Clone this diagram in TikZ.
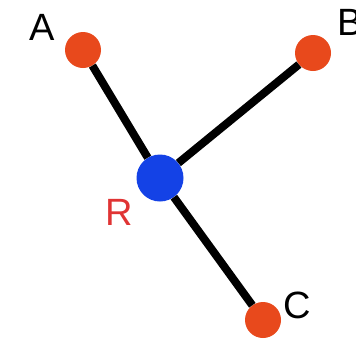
\documentclass[tikz,border=0pt]{standalone}
\usepackage{fontspec}
\setmainfont{Liberation Sans}
\usetikzlibrary{positioning}
\definecolor{leafdot}{HTML}{E8491C}
\definecolor{rootdot}{HTML}{1442E6}
\definecolor{rootlbl}{HTML}{E03434}

\begin{document}
\begin{tikzpicture}[x=1pt, y=-1pt,
  leaf/.style={circle, fill=leafdot, minimum size=36pt, inner sep=0pt},
  root/.style={circle, fill=rootdot, minimum size=47pt, inner sep=0pt},
  lbl/.style={inner sep=0pt, font=\fontsize{38}{40}\selectfont},
  branch/.style={line width=8pt, black}]
  \useasboundingbox (0,0) rectangle (356,341);

  % Dots
  \node[root] (R) at (160, 178) {};
  \node[leaf] (A) at (83, 50) {};
  \node[leaf] (B) at (313, 53) {};
  \node[leaf] (C) at (263, 320) {};

  % Labels
  \node[lbl, anchor=base] (labA) at (42, 40) {A};
  \node[lbl, anchor=base west] (labB) at (337, 35) {B};
  \node[lbl, anchor=base] (labC) at (297, 318) {C};
  \node[lbl, anchor=base, text=rootlbl] (labR) at (119, 225) {R};

  % Branches
  \draw[branch] (R) -- (A);
  \draw[branch] (R) -- (B);
  \draw[branch] (R) -- (C);
\end{tikzpicture}
\end{document}
